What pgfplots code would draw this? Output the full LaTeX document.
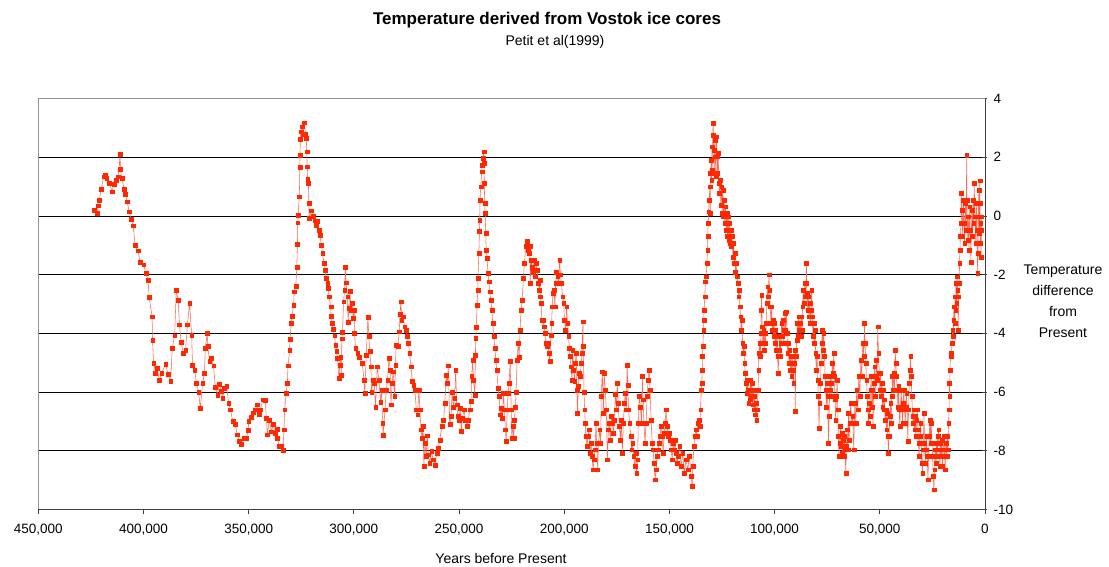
\documentclass[border=0pt]{standalone}
\usepackage{fontspec}
\setmainfont{Liberation Sans}
\usepackage{pgfplots}
\usepackage{pgfplotstable}
\pgfplotsset{compat=1.18}
\definecolor{vred}{RGB}{255,40,0}
\definecolor{vline}{RGB}{255,105,85}
\pgfplotstableread{
yr t
423300 0.2
422200 0.1
421400 0.35
421000 0.54
420000 0.92
419000 1.34
418300 1.4
417500 1.3
416400 1.13
414900 0.83
414000 1.09
413000 1.22
411900 1.34
411100 2.1
411000 1.6
410300 1.28
409200 0.92
408600 0.75
407800 0.49
406800 0.15
405900 -0.1
404900 -0.33
404000 -0.99
402700 -1.18
401600 -1.56
399900 -1.66
398900 -1.95
397800 -2.18
397300 -2.77
395900 -3.43
395700 -4.22
395200 -5.0
394300 -5.35
393400 -5.18
392500 -5.6
391400 -5.35
389500 -5.04
388300 -5.4
387100 -5.64
386300 -4.5
385200 -4.08
384400 -2.52
383500 -2.88
382900 -3.7
382100 -4.3
381100 -4.67
380000 -4.58
379100 -3.7
378100 -2.98
377100 -4.05
376700 -5.07
375700 -5.24
374800 -5.7
373800 -6.0
373000 -6.55
371900 -5.7
371000 -5.35
370600 -4.5
369700 -4.0
369400 -4.44
368600 -4.95
367800 -4.84
366700 -5.1
365900 -5.83
364800 -6.09
364000 -5.72
363000 -5.98
362400 -6.2
361600 -5.87
360500 -5.8
359500 -6.37
358700 -6.6
357500 -7.0
356400 -7.1
355400 -7.45
354400 -7.68
353500 -7.76
352400 -7.56
351100 -7.56
350200 -7.3
350000 -7.0
348700 -6.85
348000 -6.7
346800 -6.6
346000 -6.43
345200 -6.74
344400 -6.6
343300 -6.26
342100 -6.28
341600 -6.88
341100 -7.45
340200 -6.95
339200 -7.35
338300 -7.1
337600 -7.4
336500 -7.25
336400 -7.56
335600 -7.83
334400 -7.85
333800 -7.98
333200 -7.28
332900 -6.6
332200 -6.03
331600 -5.7
331300 -5.1
330500 -4.56
330400 -4.2
329700 -3.65
329400 -3.4
328600 -3.03
328400 -2.58
327600 -2.38
327100 -1.73
326800 -0.95
326700 -0.23
326500 0.03
325900 0.66
325700 1.65
325600 2.07
325400 2.63
325200 2.87
324600 3.04
324200 2.8
323500 3.18
323000 2.8
322600 2.64
322400 2.19
322200 1.68
322000 1.25
321600 1.11
321400 0.43
321200 -0.08
320200 0.18
319400 0.0
318700 -0.16
318100 -0.31
317300 -0.17
316700 -0.48
316200 -0.65
315400 -0.99
314900 -1.27
314200 -1.61
313500 -1.84
313300 -2.12
312500 -2.29
312200 -2.46
311800 -2.75
311000 -3.09
310800 -3.4
310300 -3.65
309900 -3.86
309200 -4.08
308700 -4.39
308200 -4.61
307800 -4.84
307100 -5.52
306700 -5.07
306300 -4.8
306000 -5.41
305700 -4.18
305400 -3.95
304900 -2.92
304400 -2.52
304000 -1.73
303700 -2.27
303000 -2.75
302700 -3.63
302400 -3.14
301900 -2.57
301300 -3.2
300800 -2.97
300300 -3.48
299800 -3.2
299700 -3.99
299200 -4.5
298200 -4.67
297600 -4.8
296000 -5.02
295200 -5.58
294800 -6.04
294100 -4.73
293300 -3.45
292900 -4.1
292400 -4.61
291900 -5.13
291600 -6.0
291000 -5.58
290300 -5.7
289700 -6.5
288900 -5.13
288100 -5.58
287300 -6.33
286800 -5.93
286300 -7.06
286100 -7.46
285200 -6.6
284600 -5.93
284000 -5.58
283300 -4.85
282700 -5.24
282400 -6.43
281800 -5.7
281300 -5.3
280600 -6.15
280200 -5.07
279900 -4.39
279100 -4.44
278400 -3.94
278100 -3.34
277600 -2.92
277300 -3.54
276500 -3.43
275900 -3.77
275200 -3.88
274600 -4.1
274100 -4.33
273500 -4.67
272900 -5.13
272200 -5.64
271600 -5.75
271000 -5.93
270300 -6.6
269700 -6.77
269100 -5.93
268600 -6.6
268100 -7.28
267600 -7.56
267100 -7.17
266700 -8.53
266200 -7.74
265700 -8.19
265100 -7.48
264600 -8.13
264000 -8.41
263000 -8.02
262400 -8.3
261400 -8.5
260600 -8.08
259900 -7.91
259100 -7.63
258200 -7.17
257800 -6.95
257300 -6.95
256800 -6.38
256000 -5.41
255600 -5.7
255100 -5.1
254400 -7.1
253800 -6.83
253300 -6.0
252700 -6.5
252100 -6.2
251600 -5.24
251100 -6.43
250600 -6.83
250000 -6.95
249500 -6.55
248900 -7.34
248400 -6.88
247600 -6.6
247000 -6.95
246200 -7.17
245600 -6.95
244900 -6.6
244300 -6.3
244000 -5.46
243500 -4.9
243200 -5.58
242500 -6.09
242200 -4.73
242100 -4.16
241800 -3.8
241400 -3.03
241100 -2.52
241000 -2.12
240600 -1.27
240300 -0.53
240200 -0.14
240000 0.54
239700 1.0
239200 1.51
239100 1.73
238600 1.96
238200 2.19
238100 1.79
238000 1.11
237800 0.43
237600 0.09
237300 -0.59
237100 -1.16
236700 -1.44
236200 -1.96
235900 -2.24
235400 -2.58
234900 -2.86
234400 -3.2
234000 -3.65
233500 -4.1
233000 -4.5
232500 -4.9
232100 -5.24
231400 -5.86
231000 -6.15
230300 -6.77
229900 -6.55
229400 -6.88
228900 -6.04
228400 -6.6
228000 -7.28
227600 -7.68
227100 -6.6
226700 -6.04
226200 -5.7
225700 -4.95
225200 -6.6
224900 -7.56
224400 -7.17
224000 -7.56
223700 -6.95
223200 -6.5
222900 -6.0
222400 -4.9
221900 -4.33
221400 -4.8
221000 -3.88
220500 -3.2
220000 -2.86
219400 -2.12
218900 -1.61
218300 -1.04
217800 -0.87
217100 -1.16
216700 -1.27
216300 -1.04
216200 -2.29
215700 -1.5
215200 -1.73
214800 -1.9
214300 -1.5
213800 -2.07
213300 -1.61
212900 -1.84
212400 -2.29
211900 -2.52
211600 -2.18
211300 -2.75
211000 -2.97
210600 -3.54
210200 -3.54
209700 -3.77
209200 -4.0
208700 -4.33
208200 -4.44
207800 -4.33
207300 -4.67
206800 -4.95
206300 -4.05
206000 -3.65
205700 -3.09
205400 -2.63
204900 -2.52
204400 -3.09
204100 -2.29
203700 -1.9
203200 -2.07
202700 -2.29
202200 -1.5
201800 -2.0
201300 -2.29
200800 -2.75
200300 -2.97
199900 -3.54
199400 -3.88
198900 -3.09
198400 -3.65
197900 -4.1
197600 -4.5
197300 -4.78
196800 -5.13
196300 -5.58
196000 -4.56
195600 -5.24
195100 -5.64
194800 -5.02
194300 -4.67
194000 -5.93
193700 -6.72
193300 -5.81
192900 -5.35
192400 -5.46
191900 -5.02
191600 -4.67
191100 -3.6
191000 -4.44
190600 -6.0
190300 -6.6
190000 -7.06
189700 -7.5
189200 -7.85
188700 -7.5
188200 -7.28
187800 -8.07
187300 -7.74
186800 -8.19
186300 -8.64
185900 -8.3
185400 -7.96
184900 -7.06
184600 -7.74
184100 -8.64
183700 -7.74
183200 -7.28
182700 -7.74
182400 -6.15
181900 -5.3
181400 -6.72
181000 -5.35
180500 -5.93
180000 -6.6
179500 -8.3
179000 -7.28
178600 -7.06
178100 -7.63
177600 -6.83
177100 -7.06
176700 -7.4
176200 -6.95
175700 -6.07
175200 -6.6
174800 -5.7
174300 -6.38
173800 -7.17
173300 -7.63
172900 -6.95
172400 -8.07
171900 -7.06
171400 -6.38
171000 -6.04
170500 -6.6
170100 -5.07
169800 -5.75
169400 -6.6
168900 -7.06
168400 -7.5
168000 -7.96
167500 -7.74
167000 -8.19
166500 -8.53
166000 -8.07
165600 -8.75
165100 -8.3
164800 -7.06
164300 -6.15
163800 -6.5
163300 -7.06
162900 -5.46
162500 -6.26
162100 -7.06
161600 -7.74
161100 -7.06
160600 -6.15
160100 -5.58
159700 -5.24
159200 -5.93
158700 -6.95
158200 -7.74
157800 -7.96
157300 -8.41
156800 -8.98
156300 -8.64
155900 -8.19
155400 -7.96
154900 -7.74
154400 -7.5
154000 -7.17
153500 -7.5
153000 -8.07
152500 -7.4
152100 -7.06
151600 -6.6
151100 -7.17
150600 -7.5
150100 -7.4
149700 -7.63
149200 -7.96
148700 -8.3
148200 -7.74
147800 -7.96
147300 -7.63
146800 -8.07
146300 -8.41
145900 -8.19
145200 -7.85
144400 -8.53
143700 -8.07
142900 -8.75
142100 -8.3
141300 -8.64
140500 -8.19
139700 -8.87
139200 -9.2
138900 -8.53
138400 -7.85
137900 -7.5
137500 -7.28
137000 -7.5
136500 -7.06
136000 -6.95
135600 -7.17
135200 -6.6
134900 -5.93
134600 -5.7
134400 -5.24
134300 -4.78
134100 -4.44
133800 -3.88
133700 -3.54
133500 -3.2
133200 -2.75
132900 -2.24
132500 -2.07
132200 -1.61
131900 -1.16
131800 -0.7
131600 -0.25
131400 0.15
131100 0.54
130800 1.0
130600 0.09
130500 1.45
130100 1.9
130000 1.22
129800 2.36
129700 1.56
129400 2.75
129200 3.15
128900 2.24
128700 1.45
128400 2.58
128200 2.02
127900 1.34
127600 2.7
127300 2.02
127100 1.45
126800 2.13
126500 1.11
126200 0.77
125900 1.22
125600 0.37
125200 1.0
124900 0.09
124600 0.88
124300 -0.02
124000 0.54
123700 -0.25
123300 0.32
123000 -0.48
122700 0.09
122400 -0.7
122100 -0.02
121700 -0.82
121400 -0.25
121100 -0.93
120800 -0.48
120500 -1.04
120200 -0.7
119800 -1.39
119500 -0.93
119200 -1.61
118900 -1.27
118600 -1.9
118300 -1.61
117900 -2.07
117500 -2.29
117100 -2.75
116800 -2.52
116500 -3.09
116200 -3.43
115900 -3.88
115600 -3.54
115200 -4.33
114900 -4.67
114600 -4.44
114300 -5.02
114000 -5.35
113600 -5.7
113300 -6.04
113000 -5.58
112700 -5.93
112400 -6.38
112100 -5.93
111700 -6.26
111400 -5.58
111100 -6.15
110800 -5.7
110500 -6.43
110200 -5.93
109800 -6.6
109500 -6.15
109200 -6.77
108900 -6.38
108600 -6.95
108300 -6.6
107900 -5.93
107600 -5.24
107500 -4.67
107100 -4.33
106800 -4.78
106500 -4.0
106400 -3.2
106200 -2.69
105900 -3.77
105600 -4.33
105200 -3.88
104900 -4.56
104600 -4.0
104300 -4.33
104000 -3.65
103700 -2.97
103300 -2.41
103000 -2.75
102700 -2.0
102400 -2.52
102100 -3.09
101700 -3.65
101400 -3.09
101100 -3.88
100800 -3.54
100500 -4.1
100200 -3.65
99800 -4.33
99500 -3.88
99200 -4.56
98900 -4.1
98600 -4.78
98300 -5.35
97900 -4.56
97600 -4.1
97300 -4.78
97000 -4.33
96700 -3.65
96300 -4.1
96000 -3.54
95700 -4.33
95400 -3.88
95100 -3.31
94800 -3.88
94400 -3.26
94100 -4.0
93800 -4.67
93500 -4.33
93200 -5.02
92900 -4.56
92500 -5.24
92200 -4.78
91900 -5.46
91600 -4.78
91300 -5.24
91000 -5.7
90600 -5.02
90300 -4.56
90200 -6.66
89900 -4.78
89500 -4.22
89200 -3.65
88900 -4.1
88600 -3.43
88300 -3.88
87900 -3.65
87600 -4.1
87300 -3.43
87000 -3.88
86700 -3.09
86400 -2.52
86000 -2.97
85700 -2.29
85400 -2.75
85100 -2.29
84900 -1.61
84600 -2.63
84300 -3.2
84000 -2.75
83700 -3.43
83300 -2.97
83000 -3.65
82700 -3.2
82400 -2.52
82100 -3.43
81700 -4.1
81400 -3.65
81100 -4.33
80800 -3.88
80500 -4.67
80200 -5.24
79800 -4.78
79500 -5.58
79200 -6.15
78900 -7.23
78600 -6.38
78200 -5.7
77900 -5.02
77600 -4.33
77300 -3.88
77000 -4.56
76700 -4.0
76300 -4.78
76000 -5.46
75700 -5.93
75400 -6.5
75100 -5.7
74800 -6.15
74400 -7.74
74100 -6.83
73800 -5.93
73500 -5.46
73200 -6.15
72900 -5.7
72500 -5.02
72200 -5.35
71900 -4.67
71600 -5.46
71300 -6.26
71000 -6.95
70600 -6.15
70300 -5.58
70000 -6.6
69700 -7.5
69400 -8.19
69000 -7.74
68700 -7.17
68400 -7.85
68100 -7.4
67800 -8.07
67500 -7.63
67100 -8.19
66800 -7.5
66500 -7.96
66200 -8.75
65900 -7.85
65600 -7.28
65200 -7.96
64900 -6.72
64600 -7.63
64300 -7.06
63800 -6.38
63300 -7.06
62900 -6.83
62400 -7.96
61900 -6.38
61400 -7.06
61000 -5.93
60500 -6.6
60000 -5.46
59500 -6.15
59000 -4.9
58600 -5.46
58100 -4.33
57600 -4.78
57300 -3.65
57000 -4.33
56700 -5.02
56300 -5.58
56000 -6.15
55700 -6.6
55400 -7.06
55100 -6.38
54800 -6.83
54400 -5.93
54100 -5.46
53800 -6.5
53500 -5.93
53200 -7.17
52900 -5.7
52500 -5.13
52200 -6.15
51900 -5.46
51600 -4.9
51300 -5.58
51000 -3.77
50600 -4.67
50300 -5.35
50000 -5.93
49700 -5.35
49400 -6.15
49000 -5.7
48700 -6.5
48400 -5.93
48100 -6.6
47800 -6.26
47500 -6.95
47100 -6.6
46800 -7.28
46500 -6.72
46200 -7.5
45900 -8.07
45600 -7.5
45200 -6.83
44900 -6.38
44600 -7.06
44300 -6.15
44000 -5.46
43700 -5.93
43300 -5.35
43000 -5.93
42700 -4.56
42400 -5.02
42100 -5.46
41700 -5.93
41400 -6.5
41100 -5.81
40800 -6.6
40500 -7.17
40200 -6.5
39800 -5.93
39500 -6.6
39200 -7.06
38900 -6.38
38600 -5.93
38300 -6.5
37900 -7.06
37600 -6.5
37300 -6.04
37000 -6.6
36700 -7.68
36300 -6.6
36000 -5.7
35700 -5.24
35400 -4.78
35100 -5.46
34800 -6.15
34400 -6.83
34100 -7.06
33800 -6.6
33500 -7.28
33200 -6.83
32900 -7.5
32500 -6.95
32200 -6.6
31900 -7.28
31600 -7.74
31300 -8.19
31000 -7.5
30600 -7.06
30300 -7.74
30000 -8.41
29700 -8.75
29400 -7.96
29000 -6.72
28700 -7.74
28400 -8.41
28100 -7.96
27800 -7.5
27500 -8.19
27100 -8.98
26800 -8.19
26500 -7.5
26200 -6.95
25900 -7.74
25600 -7.06
25200 -7.74
24900 -8.19
24600 -8.87
24300 -9.32
24000 -8.64
23600 -7.96
23300 -8.41
23000 -7.74
22700 -8.19
22400 -7.5
22100 -7.28
21800 -7.96
21400 -8.53
21100 -7.74
20800 -8.19
20500 -7.63
20200 -8.53
19800 -7.96
19500 -7.5
19200 -8.19
18900 -8.64
18600 -7.74
18200 -8.19
17900 -7.5
17600 -7.96
17300 -7.06
17100 -6.6
17000 -5.7
16800 -6.15
16700 -5.24
16300 -4.67
16000 -4.78
15700 -4.33
15400 -3.88
15100 -4.1
14900 -3.54
14800 -3.09
14400 -3.65
14300 -2.75
14000 -3.2
13800 -2.29
13500 -2.97
13300 -2.07
13000 -2.52
12700 -3.9
12500 -2.75
12200 -2.29
12100 -1.61
11900 -1.16
11700 -0.7
11400 -0.25
11300 0.77
11000 0.2
10600 -0.7
10300 0.54
10000 -0.25
9700 -0.93
9400 0.43
9000 -0.48
8700 2.07
8600 0.54
8200 -0.82
7900 -0.02
7600 -1.16
7300 0.32
7000 -0.48
6700 -1.58
6300 0.2
6000 -0.7
5700 0.54
5400 -0.25
5100 1.11
4800 -0.02
4400 -0.93
4100 0.43
3800 -0.48
3500 -1.95
3300 -1.27
3200 -0.02
2900 0.88
2700 -0.59
2500 1.2
2400 0.43
2200 -0.93
2100 -0.25
1900 -1.39
1700 -0.48
1600 -0.02
}\vostok
\begin{document}
\begin{tikzpicture}[x=1pt,y=1pt]
\useasboundingbox (0,0) rectangle (1109,567);
\begin{axis}[
  at={(38.3pt,57.5pt)}, anchor=south west,
  scale only axis, width=946.7pt, height=411pt,
  x dir=reverse, xmin=0, xmax=450000, ymin=-10, ymax=4,
  xtick={0,50000,...,450000},
  ytick={-10,-8,...,4},
  xtick pos=bottom, ytick pos=right, yticklabel pos=right,
  tick align=outside, major tick length=5pt,
  tick style={black!75, line width=0.8pt},
  y tick style={xshift=-3pt},
  ymajorgrids, major grid style={black, line width=0.7pt},
  axis line style={gray!85, line width=0.8pt},
  scaled x ticks=false,
  /pgf/number format/fixed,
  /pgf/number format/1000 sep={,},
  /pgf/number format/assume math mode=true,
  xticklabel style={font=\fontsize{13.5}{16}\selectfont, yshift=-6pt},
  yticklabel style={font=\fontsize{13.5}{16}\selectfont, anchor=west},
]
\addplot[color=vline, line width=0.55pt, mark=square*, mark size=1.9pt,
  mark options={draw=vred, fill=vred, line width=0.2pt}] table[x=yr,y=t]{\vostok};
\end{axis}
\draw[black!75, line width=0.8pt] (38.3,57.5) -- (985,57.5) -- (985,468.5);
\node[font=\fontsize{17}{20}\selectfont\bfseries] at (547,547) {Temperature derived from Vostok ice cores};
\node[font=\fontsize{14}{17}\selectfont] at (555,525) {Petit et al(1999)};
\node[font=\fontsize{14}{17}\selectfont] at (501,9) {Years before Present};
\node[font=\fontsize{14}{21}\selectfont, align=center] at (1063,265.5) {Temperature\\difference\\from\\Present};
\end{tikzpicture}
\end{document}
